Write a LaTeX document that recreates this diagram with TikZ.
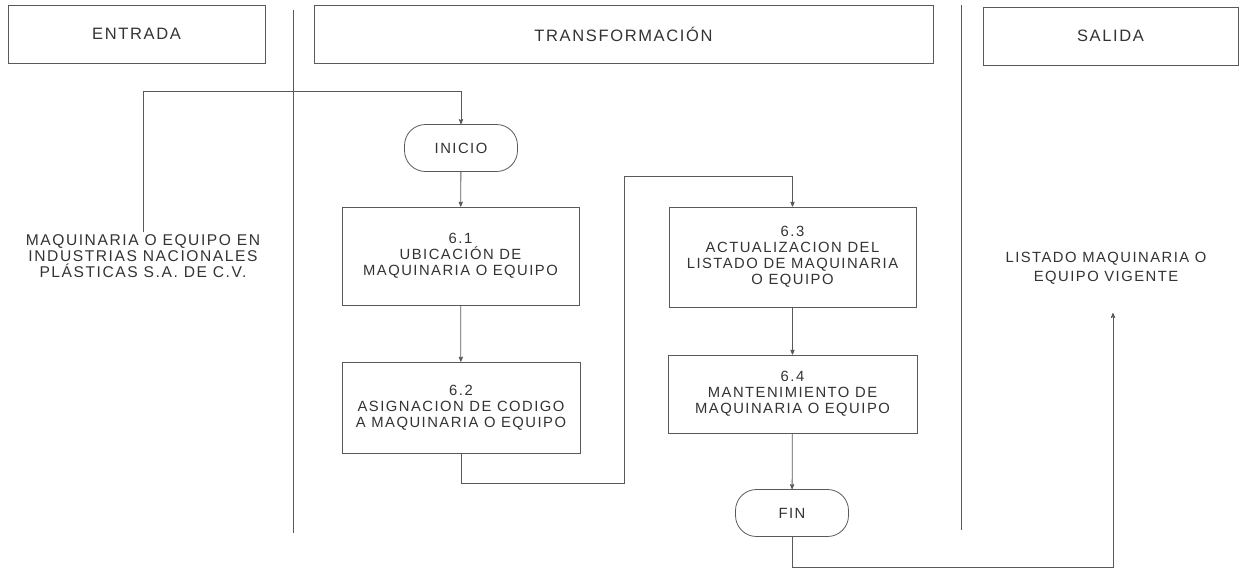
\documentclass[tikz,border=0pt]{standalone}
\usepackage{fontspec}
\setmainfont{Liberation Sans}[LetterSpace=10]
\usetikzlibrary{arrows}
\tikzset{
  lane/.style = {draw=black!65, line width=0.8pt, text=black!80,
    minimum height=58pt, font=\fontsize{16.5}{19}\selectfont},
  task/.style = {draw=black!65, line width=0.8pt, align=center, text=black!80,
    inner sep=0pt, font=\fontsize{14.8}{16}\selectfont},% actividad
  term/.style = {task, rounded corners=21pt, minimum width=113pt,
    minimum height=47pt},% inicio / fin
  note/.style = {align=center, text=black!80, inner sep=2pt,
    font=\fontsize{14.8}{19}\selectfont},
  flow/.style = {draw=black!65, line width=0.8pt}
}

\begin{document}
\begin{tikzpicture}[x=1pt, y=-1pt, >=stealth']
\useasboundingbox (0,0) rectangle (1240,571);
% encabezados
\node [lane, minimum width=257pt] (entrada) at (136.5,34) {ENTRADA};
\node [lane, minimum width=619pt] (transf) at (623.5,34) {TRANSFORMACIÓN};
\node [lane, minimum width=255pt] (salida) at (1110.5,36) {SALIDA};
\draw [flow] (293,10) -- (293,533);
\draw [flow] (961,5) -- (961,530);
% entrada y salida
\node [note, font=\fontsize{15.6}{16}\selectfont] (insumo) at (143,256)
  {MAQUINARIA O EQUIPO EN\\INDUSTRIAS NACIONALES\\PLÁSTICAS S.A. DE C.V.};
\node [note] (listado) at (1106,268) {LISTADO MAQUINARIA O\\EQUIPO VIGENTE};
% actividades
\node [term] (inicio) at (461,148) {INICIO};
\node [task, minimum width=237pt, minimum height=98pt] (a61) at (460.5,256)
  {6.1\\UBICACIÓN DE\\MAQUINARIA O EQUIPO};
\node [task, minimum width=238pt, minimum height=91pt] (a62) at (461,407.5)
  {6.2\\ASIGNACION DE CODIGO\\A MAQUINARIA O EQUIPO};
\node [task, minimum width=247pt, minimum height=100pt] (a63) at (792.5,257)
  {6.3\\ACTUALIZACION DEL\\LISTADO DE MAQUINARIA\\O EQUIPO};
\node [task, minimum width=249pt, minimum height=78pt] (a64) at (792.5,394)
  {6.4\\MANTENIMIENTO DE\\MAQUINARIA O EQUIPO};
\node [term] (fin) at (792,513) {FIN};
\coordinate (entra) at (144,91);
\coordinate (vuelta) at (624,176);
\coordinate (sale) at (1113,313);
% conectores
\draw [flow, ->] (insumo.north) |- (inicio.north |- entra) -- (inicio.north);
\draw [flow, ->] (inicio) -- (a61);
\draw [flow, ->] (a61) -- (a62);
\draw [flow, ->] (a62.south) -- ++(0,30) -| (vuelta) -| (a63.north);
\draw [flow, ->] (a63) -- (a64);
\draw [flow, ->] (a64) -- (fin);
\draw [flow, ->] (fin.south) -- ++(0,30) -| (sale);
\end{tikzpicture}
\end{document}
